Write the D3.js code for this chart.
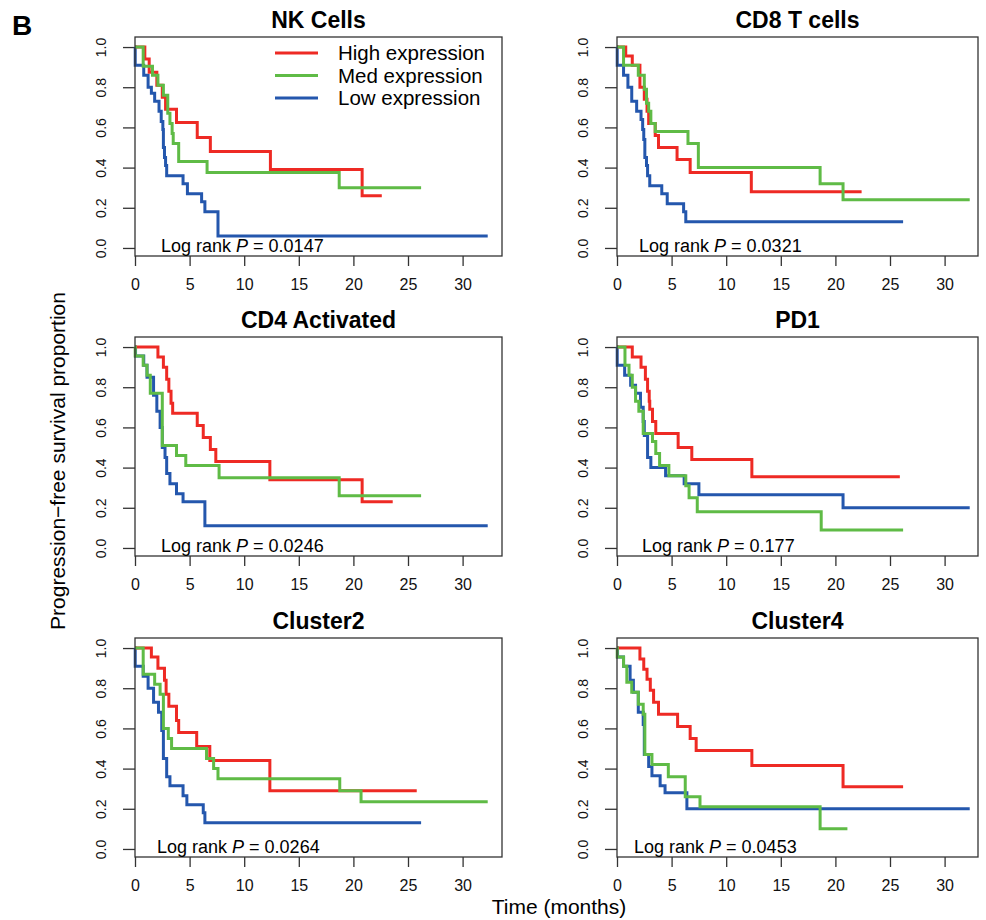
<!DOCTYPE html>
<html>
<head>
<meta charset="utf-8">
<script src="https://cdn.jsdelivr.net/npm/d3@7"></script>
<style>
  body { margin: 0; background: #fff; }
  svg { display: block; font-family: "Liberation Sans", Arial, sans-serif; }
</style>
</head>
<body>
<svg id="chart" width="986" height="920"></svg>
<script>
// panel text
var panelTitles = ["NK Cells", "CD8 T cells", "CD4 Activated", "PD1", "Cluster2", "Cluster4"];
var pValues = ["0.0147", "0.0321", "0.0246", "0.177", "0.0264", "0.0453"];
var seriesNames = ["High expression", "Med expression", "Low expression"];
var xTicks = [0, 5, 10, 15, 20, 25, 30];
var yTicks = [0, 0.2, 0.4, 0.6, 0.8, 1.0];

// Kaplan-Meier steps: [months, proportion], last pair = end of follow-up
var nkHigh = [[0,1],[0.9,0.94],[1.3,0.875],[2.0,0.81],[2.5,0.75],[2.8,0.69],[3.8,0.625],[5.7,0.55],[6.9,0.48],[12.4,0.39],[20.8,0.26],[22.6,0.26]];
var nkMed = [[0,1],[0.75,0.905],[1.6,0.86],[2.1,0.81],[2.6,0.76],[3.0,0.67],[3.2,0.62],[3.4,0.57],[3.5,0.52],[4.0,0.43],[6.6,0.375],[18.7,0.30],[26.2,0.30]];
var nkLow = [[0,1],[0.02,0.91],[0.8,0.86],[1.2,0.80],[1.5,0.77],[1.8,0.73],[2.2,0.68],[2.4,0.63],[2.55,0.59],[2.6,0.50],[2.7,0.45],[2.8,0.41],[2.9,0.36],[4.4,0.32],[4.8,0.27],[6.1,0.23],[6.4,0.18],[7.6,0.06],[32.3,0.06]];

var cd8High = [[0,1],[0.8,0.955],[1.4,0.91],[2.1,0.80],[2.5,0.74],[2.75,0.68],[2.9,0.62],[3.5,0.56],[3.8,0.50],[5.5,0.44],[6.7,0.375],[12.3,0.28],[22.4,0.28]];
var cd8Med = [[0,1],[0.6,0.91],[1.95,0.86],[2.5,0.79],[2.7,0.72],[2.9,0.68],[3.1,0.62],[3.5,0.58],[6.5,0.52],[7.45,0.40],[18.6,0.32],[20.7,0.24],[32.3,0.24]];
var cd8Low = [[0,1],[0.02,0.91],[0.6,0.86],[1.0,0.80],[1.35,0.73],[1.8,0.68],[2.2,0.64],[2.35,0.59],[2.45,0.54],[2.55,0.45],[2.7,0.41],[2.8,0.36],[3.0,0.31],[4.1,0.27],[4.6,0.22],[6.1,0.18],[6.3,0.13],[26.2,0.13]];

var cd4High = [[0,1],[2.1,0.95],[2.6,0.90],[2.9,0.84],[3.1,0.78],[3.3,0.72],[3.45,0.67],[5.7,0.61],[6.25,0.55],[6.9,0.49],[7.4,0.43],[12.35,0.34],[20.8,0.23],[23.6,0.23]];
var cd4Med = [[0,1],[0.02,0.955],[0.75,0.91],[1.1,0.86],[1.4,0.77],[2.5,0.51],[3.8,0.46],[4.65,0.41],[7.7,0.35],[18.7,0.26],[26.2,0.26]];
var cd4Low = [[0,1],[0.05,0.955],[0.8,0.91],[1.1,0.85],[1.7,0.76],[2.0,0.68],[2.3,0.60],[2.5,0.50],[2.75,0.45],[2.9,0.37],[3.2,0.32],[3.8,0.27],[4.4,0.23],[6.4,0.11],[32.3,0.11]];

var pd1High = [[0,1],[1.4,0.95],[2.2,0.90],[2.6,0.84],[2.8,0.78],[2.95,0.73],[3.0,0.69],[3.25,0.63],[3.55,0.57],[5.6,0.50],[6.85,0.44],[12.35,0.355],[25.9,0.355]];
var pd1Med = [[0,1],[0.73,0.91],[1.1,0.86],[1.4,0.80],[1.7,0.73],[2.0,0.68],[2.4,0.57],[3.25,0.53],[3.55,0.47],[3.9,0.41],[4.75,0.36],[6.3,0.31],[6.6,0.25],[7.35,0.18],[18.7,0.09],[26.2,0.09]];
var pd1Low = [[0,1],[0.02,0.91],[0.7,0.86],[1.25,0.81],[1.7,0.77],[2.15,0.70],[2.4,0.63],[2.5,0.56],[2.8,0.45],[3.1,0.40],[4.45,0.36],[6.15,0.32],[7.5,0.265],[20.7,0.20],[32.3,0.20]];

var cl2High = [[0,1],[1.5,0.955],[2.1,0.90],[2.7,0.84],[2.85,0.77],[3.1,0.71],[3.8,0.64],[4.0,0.58],[5.65,0.51],[6.85,0.44],[12.35,0.29],[25.8,0.29]];
var cl2Med = [[0,1],[0.75,0.87],[1.8,0.82],[2.3,0.77],[2.6,0.60],[3.05,0.55],[3.35,0.50],[6.55,0.45],[7.2,0.40],[7.6,0.35],[18.75,0.29],[20.7,0.235],[32.3,0.235]];
var cl2Low = [[0,1],[0.02,0.91],[0.75,0.86],[1.2,0.80],[1.7,0.73],[2.15,0.68],[2.45,0.59],[2.6,0.45],[2.9,0.36],[3.2,0.315],[4.4,0.265],[4.75,0.22],[6.25,0.18],[6.4,0.13],[26.2,0.13]];

var cl4High = [[0,1],[2.1,0.945],[2.45,0.895],[2.75,0.845],[3.05,0.79],[3.35,0.73],[3.8,0.67],[5.55,0.61],[6.7,0.55],[7.25,0.49],[12.35,0.415],[20.7,0.31],[26.2,0.31]];
var cl4Med = [[0,1],[0.02,0.955],[0.6,0.91],[0.9,0.83],[1.35,0.78],[1.95,0.72],[2.4,0.67],[2.55,0.47],[3.2,0.42],[4.7,0.36],[6.25,0.26],[7.6,0.21],[18.6,0.10],[21.1,0.10]];
var cl4Low = [[0,1],[0.05,0.955],[0.6,0.91],[1.2,0.84],[1.5,0.78],[1.95,0.68],[2.4,0.62],[2.5,0.47],[2.9,0.41],[3.2,0.365],[3.95,0.315],[4.4,0.28],[6.4,0.20],[32.3,0.20]];

var colors = ["#ee2a24", "#5fbb46", "#2457ad"];

var panels = [
  {series: [nkHigh, nkMed, nkLow]},
  {series: [cd8High, cd8Med, cd8Low]},
  {series: [cd4High, cd4Med, cd4Low]},
  {series: [pd1High, pd1Med, pd1Low]},
  {series: [cl2High, cl2Med, cl2Low]},
  {series: [cl4High, cl4Med, cl4Low]}
];

// layout
var colX = [135, 617], boxW = [367, 361];
var rowY = [37, 337, 638], boxH = 219;
var pxPerMonth = 10.92;
var pLabelDx = [26, 22, 26, 25, 22, 17];

var svg = d3.select("#chart");

svg.append("text")
  .attr("x", 12).attr("y", 35)
  .attr("font-size", 28).attr("font-weight", "bold")
  .text("B");

panels.forEach(function (p, i) {
  var col = i % 2, row = Math.floor(i / 2);
  var w = boxW[col];
  var g = svg.append("g")
    .attr("transform", "translate(" + colX[col] + "," + rowY[row] + ")");

  var x = d3.scaleLinear().domain([0, w / pxPerMonth]).range([0, w]);
  var y = d3.scaleLinear().domain([-0.04, 1.05]).range([boxH, 0]);

  // y axis
  var ya = g.append("g")
    .call(d3.axisLeft(y).tickValues(yTicks).tickSize(12).tickFormat(d3.format(".1f")));
  ya.select(".domain").remove();
  ya.selectAll("line").attr("stroke", "#333").attr("stroke-width", 1.3);
  ya.selectAll("text")
    .attr("x", null).attr("dy", null)
    .attr("transform", "translate(-29,0) rotate(-90)")
    .attr("text-anchor", "middle")
    .attr("font-size", 14)
    .attr("fill", "#111")
    .attr("font-family", null);

  // x axis
  var xa = g.append("g")
    .attr("transform", "translate(0," + boxH + ")")
    .call(d3.axisBottom(x).tickValues(xTicks).tickSize(10));
  xa.select(".domain").remove();
  xa.selectAll("line").attr("stroke", "#333").attr("stroke-width", 1.3);
  xa.selectAll("text")
    .attr("y", 34).attr("dy", null)
    .attr("font-size", 16)
    .attr("fill", "#111")
    .attr("font-family", null);

  // curves: low, high, then med on top
  var line = d3.line()
    .x(function (d) { return x(d[0]); })
    .y(function (d) { return y(d[1]); })
    .curve(d3.curveStepAfter);
  [2, 0, 1].forEach(function (k) {
    g.append("path")
      .datum(p.series[k])
      .attr("d", line)
      .attr("fill", "none")
      .attr("stroke", colors[k])
      .attr("stroke-width", 3);
  });

  // frame
  g.append("rect")
    .attr("width", w).attr("height", boxH)
    .attr("fill", "none")
    .attr("stroke", "#333").attr("stroke-width", 1.3);

  // title
  g.append("text")
    .attr("x", w / 2).attr("y", -9)
    .attr("text-anchor", "middle")
    .attr("font-size", 23).attr("font-weight", "bold")
    .text(panelTitles[i]);

  // log rank p
  var t = g.append("text")
    .attr("x", pLabelDx[i]).attr("y", 215)
    .attr("font-size", 18);
  t.append("tspan").text("Log rank ");
  t.append("tspan").attr("font-style", "italic").text("P");
  t.append("tspan").text(" = " + pValues[i]);

  // legend in first panel
  if (i === 0) {
    var lg = g.selectAll(".leg").data(seriesNames).enter().append("g")
      .attr("transform", function (d, k) { return "translate(140," + (16 + k * 22.5) + ")"; });
    lg.append("line")
      .attr("x1", 0).attr("x2", 43)
      .attr("stroke", function (d, k) { return colors[k]; })
      .attr("stroke-width", 3);
    lg.append("text")
      .attr("x", 63).attr("y", 7)
      .attr("font-size", 20.5)
      .text(function (d) { return d; });
  }
});

// axis titles
svg.append("text")
  .attr("transform", "translate(65,461) rotate(-90)")
  .attr("text-anchor", "middle")
  .attr("font-size", 21)
  .text("Progression\u2212free survival proportion");

svg.append("text")
  .attr("x", 559).attr("y", 914)
  .attr("text-anchor", "middle")
  .attr("font-size", 21)
  .text("Time (months)");
</script>
</body>
</html>
